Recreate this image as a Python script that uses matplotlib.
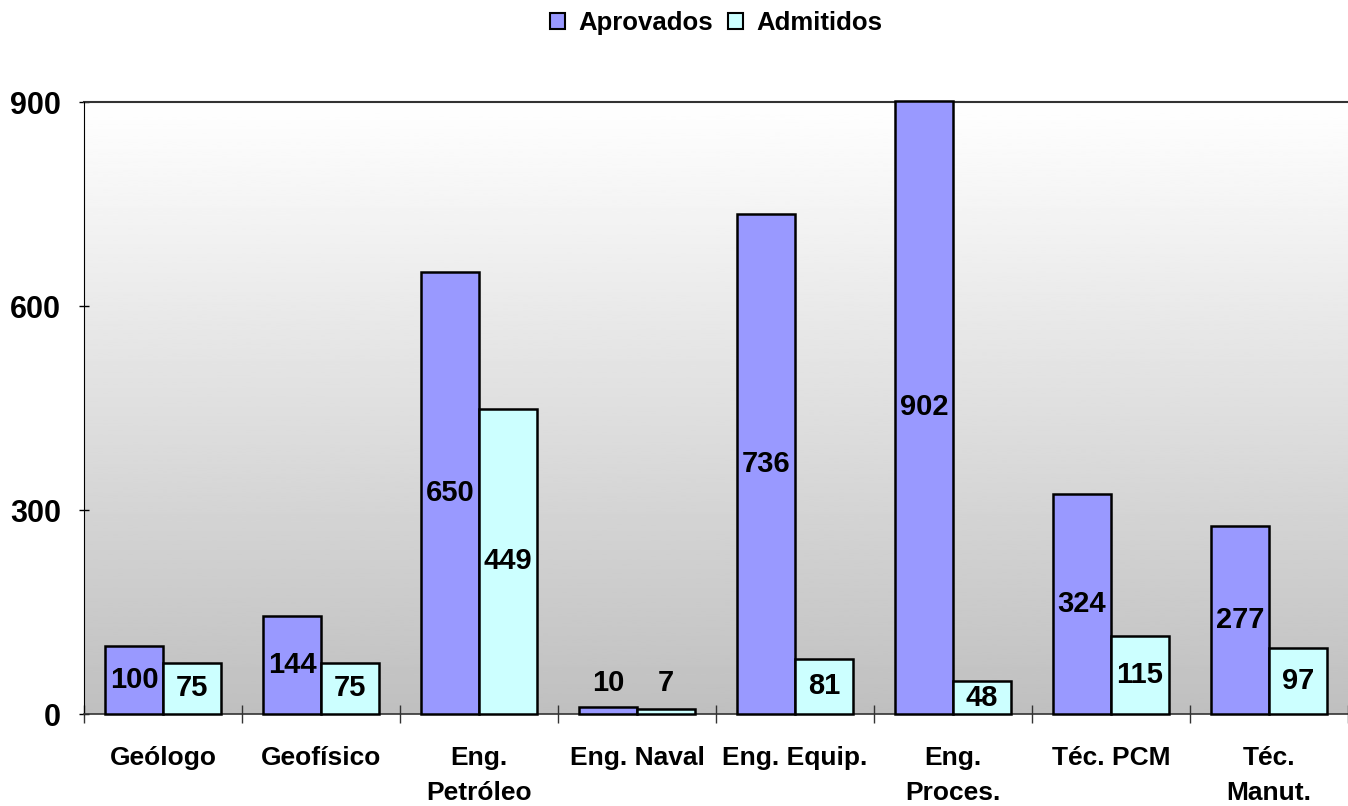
import numpy as np
import matplotlib
matplotlib.use("Agg")
import matplotlib.pyplot as plt
from matplotlib.patches import Patch

categories = ["Geólogo", "Geofísico", "Eng.\nPetróleo", "Eng. Naval", "Eng. Equip.",
              "Eng.\nProces.", "Téc. PCM", "Téc.\nManut."]
aprovados = [100, 144, 650, 10, 736, 902, 324, 277]
admitidos = [75, 75, 449, 7, 81, 48, 115, 97]
series_names = ["Aprovados", "Admitidos"]
yticks = [0, 300, 600, 900]

plt.rcParams['font.family'] = ['Liberation Sans', 'DejaVu Sans']
plt.rcParams['font.weight'] = 'bold'

fig = plt.figure(figsize=(13.48, 8.06), dpi=100)
ax = fig.add_axes([84/1348, 1-714/806, 1-84/1348, (714-102)/806])

x = np.arange(len(categories))
w = 0.367
c1, c2 = "#9999FF", "#CCFFFF"

# gradient background
grad = np.linspace(0.75, 1.0, 256).reshape(-1, 1)
ax.imshow(grad, cmap='gray', vmin=0, vmax=1, extent=(-0.5, 7.5, 0, 900),
          origin='lower', aspect='auto', zorder=0)

b1 = ax.bar(x - w/2, aprovados, w, color=c1, edgecolor='black', linewidth=1.8, zorder=3,
            clip_on=False)
b2 = ax.bar(x + w/2, admitidos, w, color=c2, edgecolor='black', linewidth=1.8, zorder=3,
            clip_on=False)

for xs, vals in ((x - w/2, aprovados), (x + w/2, admitidos)):
    for xi, v in zip(xs, vals):
        y = v/2 if v > 20 else 45
        ax.text(xi, y, str(v), ha='center', va='center', fontsize=21,
                fontweight='bold', zorder=4)

ax.set_xlim(-0.5, 7.5)
ax.set_ylim(0, 900)
ax.set_yticks(yticks)
ax.set_yticklabels([str(t) for t in yticks])
ax.tick_params(axis='y', direction='inout', length=7, width=1, pad=13,
               labelsize=22, colors='black')
ax.set_xticks(x)
ax.set_xticklabels(categories, fontsize=19, fontweight='bold', linespacing=1.6)
ax.set_xticks(np.arange(-0.5, 8.0, 1.0), minor=True)
ax.tick_params(axis='x', which='major', length=0, pad=23)
ax.tick_params(axis='x', which='minor', direction='inout', length=13, width=1, color='#333333')

ax.spines['right'].set_visible(False)
ax.spines['top'].set_color('#333333')
ax.spines['top'].set_linewidth(1.5)
ax.spines['top'].set_zorder(2)
ax.spines['left'].set_color('black')
ax.spines['bottom'].set_color('#333333')
ax.spines['bottom'].set_linewidth(1.2)

handles = [Patch(facecolor=c1, edgecolor='black', linewidth=1.5),
           Patch(facecolor=c2, edgecolor='black', linewidth=1.5)]
fig.legend(handles, series_names, loc='center', bbox_to_anchor=(716/1348, 1-23/806),
           ncol=2, frameon=False, prop={'size': 18.5, 'weight': 'bold'},
           handlelength=0.6, handleheight=0.6, handletextpad=0.5, columnspacing=0.6)

fig.savefig("out.png", dpi=100)
